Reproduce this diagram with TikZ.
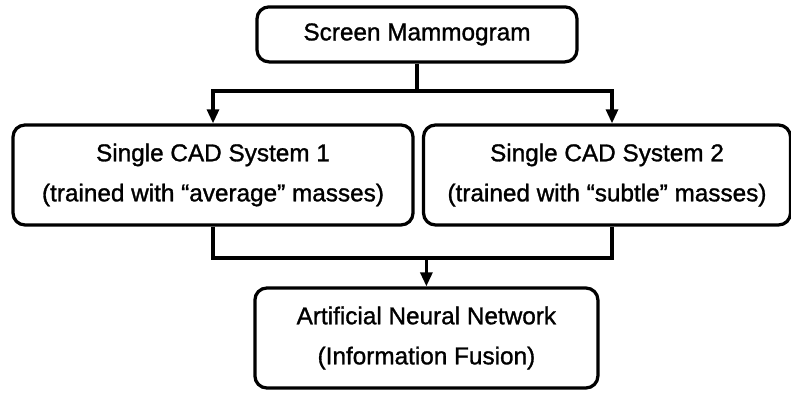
\documentclass[tikz,border=0pt]{standalone}
\usepackage{fontspec}
\setmainfont{Liberation Sans}[UprightFeatures={FakeBold=1.2}]
\usepackage{tikz}
\usetikzlibrary{shapes,arrows.meta,positioning,calc}

\begin{document}
\begin{tikzpicture}[
        box/.style={rectangle, draw, rounded corners=0.3cm, line width=2.3pt, align=center, inner sep=0pt, font=\fontsize{17.3}{28.5}\selectfont},
        arrow/.style={-{Triangle[length=10pt, width=8.5pt]}, line width=2.3pt},
        line/.style={line width=2.3pt}
    ]

    % page size
    \useasboundingbox (0,0) rectangle (19.775,-9.825);

    % Input layer
    \node[box, minimum width=8cm, minimum height=1.375cm] (screen) at (10.425,-0.86) {Screen Mammogram};

    % CAD layer
    \node[box, minimum width=10cm, minimum height=2.5cm] (cadone) at (5.325,-4.375) {Single CAD System 1\\(trained with “average” masses)};
    \node[box, minimum width=9.175cm, minimum height=2.5cm] (cadtwo) at (15.175,-4.375) {Single CAD System 2\\(trained with “subtle” masses)};

    % Fusion layer
    \node[box, minimum width=8.575cm, minimum height=2.5cm] (fusion) at (10.66,-8.45) {Artificial Neural Network\\(Information Fusion)};

    % Branch and merge points
    \coordinate (split) at (screen.south |- 0,-2.275);
    \coordinate (merge) at (fusion.north |- 0,-6.45);
    \coordinate (cadtwoin) at ($(cadtwo.north)+(0.125,0)$);
    \coordinate (cadtwoout) at ($(cadtwo.south)+(0.125,0)$);

    % Connectors
    \draw[line] (screen.south) -- (split);
    \draw[arrow] (split) -| (cadone.north);
    \draw[arrow] (split) -| (cadtwoin);
    \draw[line] (cadone.south) |- (merge);
    \draw[line] (cadtwoout) |- (merge);
    \draw[arrow] (merge) -- (fusion.north);

\end{tikzpicture}
\end{document}
